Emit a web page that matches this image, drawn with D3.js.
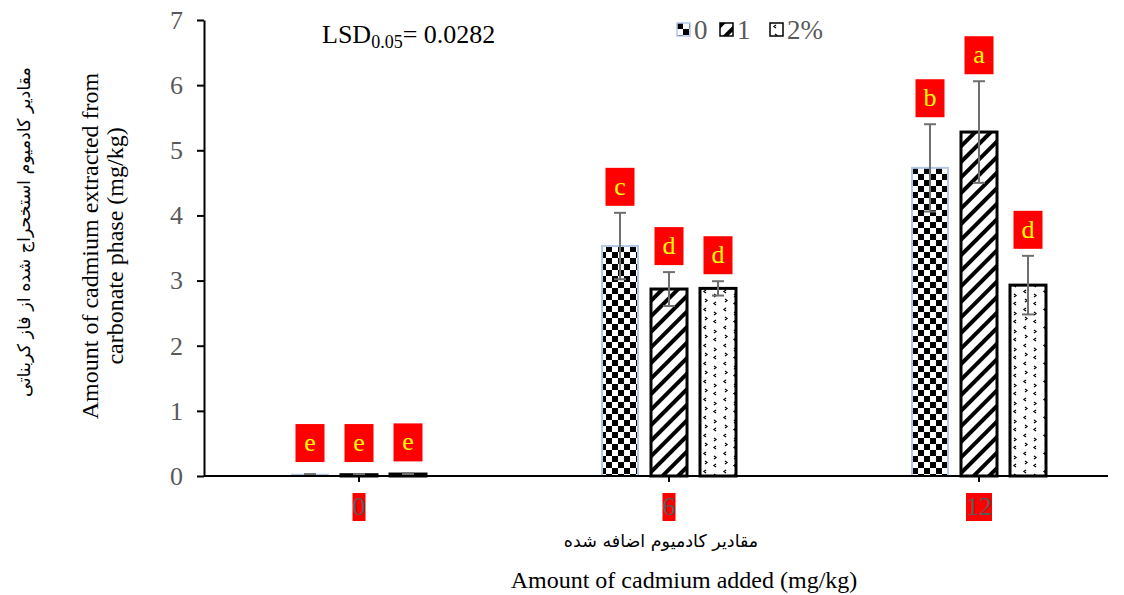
<!DOCTYPE html>
<html>
<head>
<meta charset="utf-8">
<script src="https://cdn.jsdelivr.net/npm/d3@7"></script>
<style>
  body { margin: 0; background: #fff; }
  svg { display: block; }
  text { font-family: "Liberation Serif", "Times New Roman", serif; }
  .fa { font-family: "DejaVu Sans", sans-serif; }
</style>
</head>
<body>
<svg width="1124" height="595"></svg>
<script>
// cadmium added (mg/kg)
const categories = ['0', '6', '12'];
// treatment levels shown in the legend
const series = ['0', '1', '2%'];

// mean values per series, one entry per category
const values0 = [0.02, 3.53, 4.73];
const values1 = [0.02, 2.87, 5.28];
const values2 = [0.03, 2.88, 2.93];

// error bar half-lengths
const errors0 = [0.01, 0.51, 0.67];
const errors1 = [0.01, 0.26, 0.78];
const errors2 = [0.01, 0.11, 0.45];

// LSD grouping letters
const letters0 = ['e', 'c', 'b'];
const letters1 = ['e', 'd', 'a'];
const letters2 = ['e', 'd', 'd'];

const yTicks = [0, 1, 2, 3, 4, 5, 6, 7];

const values = [values0, values1, values2];
const errors = [errors0, errors1, errors2];
const letters = [letters0, letters1, letters2];

const data = [];
categories.forEach((c, i) => {
  series.forEach((s, j) => {
    data.push({ cat: c, s: s, j: j, v: values[j][i], e: errors[j][i], l: letters[j][i] });
  });
});

const svg = d3.select('svg');
const plotLeft = 204, plotTop = 20, plotBottom = 476, axisRight = 1108;

const y = d3.scaleLinear().domain([0, 7]).range([plotBottom, plotTop]);
const x0 = d3.scaleBand().domain(categories).range([plotLeft, plotLeft + 930]);
const x1 = d3.scaleBand().domain(series).range([0, 134]).paddingInner(13 / 49);

const barX = d => x0(d.cat) + x0.bandwidth() / 2 - 67 + x1(d.s);

// patterns
const defs = svg.append('defs');

const checker = defs.append('pattern')
  .attr('id', 'pat0').attr('patternUnits', 'userSpaceOnUse')
  .attr('width', 12).attr('height', 12);
checker.append('rect').attr('width', 12).attr('height', 12).attr('fill', '#fff');
checker.append('rect').attr('width', 6).attr('height', 6).attr('fill', '#000');
checker.append('rect').attr('x', 6).attr('y', 6).attr('width', 6).attr('height', 6).attr('fill', '#000');

const stripes = defs.append('pattern')
  .attr('id', 'pat1').attr('patternUnits', 'userSpaceOnUse')
  .attr('width', 11).attr('height', 11)
  .attr('patternTransform', 'rotate(45)');
stripes.append('rect').attr('width', 11).attr('height', 11).attr('fill', '#fff');
stripes.append('rect').attr('width', 4).attr('height', 11).attr('fill', '#000');

const dots = defs.append('pattern')
  .attr('id', 'pat2').attr('patternUnits', 'userSpaceOnUse')
  .attr('width', 20).attr('height', 18);
dots.append('rect').attr('width', 20).attr('height', 18).attr('fill', '#fff');
dots.append('path')
  .attr('d', 'M6,2 L4,3.5 L6,5 M14,6 L16,7.5 L14,9 M5,11 L7,12.5 L5,14 M16,14 L14,15.5 L16,17')
  .attr('fill', 'none').attr('stroke', '#000').attr('stroke-width', 1.3);

const fills = ['url(#pat0)', 'url(#pat1)', 'url(#pat2)'];
const strokes = ['#b4c7e7', '#000', '#000'];
const strokeW = [2, 3, 3];

// bars
svg.append('g').selectAll('rect')
  .data(data)
  .join('rect')
  .attr('x', d => barX(d))
  .attr('y', d => y(d.v))
  .attr('width', x1.bandwidth())
  .attr('height', d => y(0) - y(d.v))
  .attr('fill', d => fills[d.j])
  .attr('stroke', d => strokes[d.j])
  .attr('stroke-width', d => strokeW[d.j]);

// error bars
const eb = svg.append('g').attr('stroke', '#6f6f6f').attr('stroke-width', 2);
eb.selectAll('line.v')
  .data(data)
  .join('line').attr('class', 'v')
  .attr('x1', d => barX(d) + x1.bandwidth() / 2)
  .attr('x2', d => barX(d) + x1.bandwidth() / 2)
  .attr('y1', d => y(d.v - d.e))
  .attr('y2', d => y(d.v + d.e));
eb.selectAll('line.t')
  .data(data.flatMap(d => [{ d: d, k: 1 }, { d: d, k: -1 }]))
  .join('line').attr('class', 't')
  .attr('x1', o => barX(o.d) + x1.bandwidth() / 2 - 6)
  .attr('x2', o => barX(o.d) + x1.bandwidth() / 2 + 6)
  .attr('y1', o => y(o.d.v + o.k * o.d.e))
  .attr('y2', o => y(o.d.v + o.k * o.d.e));

// letters
const lab = svg.append('g').selectAll('g')
  .data(data)
  .join('g')
  .attr('transform', d => `translate(${barX(d) + x1.bandwidth() / 2},${y(d.v + d.e) - (d.v < 0.5 ? 12 : 7)})`);
lab.append('rect')
  .attr('x', -14.5).attr('y', -38).attr('width', 29).attr('height', 38)
  .attr('fill', '#ff0000');
lab.append('text')
  .attr('y', -11)
  .attr('text-anchor', 'middle')
  .attr('font-size', 26)
  .attr('fill', '#ffff00')
  .text(d => d.l);

// y axis
const yAxis = svg.append('g')
  .attr('transform', `translate(${plotLeft},0)`)
  .call(d3.axisLeft(y).tickValues(yTicks).tickFormat(d3.format('d'))
    .tickSize(7).tickSizeOuter(0).tickPadding(14));
yAxis.select('.domain').attr('stroke', '#000').attr('stroke-width', 2);
yAxis.selectAll('.tick line').attr('stroke', '#000').attr('stroke-width', 2);
yAxis.selectAll('.tick text')
  .attr('font-size', 26).attr('fill', '#595959')
  .attr('font-family', '"Liberation Serif", serif');

// x axis
const xAxis = svg.append('g')
  .attr('transform', `translate(0,${plotBottom})`)
  .call(d3.axisBottom(x0).tickSize(6).tickSizeOuter(0));
xAxis.select('.domain').remove();
xAxis.append('line')
  .attr('x1', plotLeft).attr('x2', axisRight)
  .attr('stroke', '#000').attr('stroke-width', 2);
xAxis.selectAll('.tick line').attr('stroke', '#000').attr('stroke-width', 2);
xAxis.selectAll('.tick text')
  .attr('y', 39).attr('dy', 0)
  .attr('font-size', 26).attr('fill', '#595959')
  .attr('font-family', '"Liberation Serif", serif');
xAxis.selectAll('.tick').each(function () {
  const t = d3.select(this).select('text');
  const b = t.node().getBBox();
  d3.select(this).insert('rect', 'text')
    .attr('x', b.x).attr('y', b.y + 1)
    .attr('width', b.width).attr('height', b.height - 1)
    .attr('fill', '#ff0000');
});

// axis titles
svg.append('text')
  .attr('class', 'fa')
  .attr('transform', 'translate(30,232) rotate(-90)')
  .attr('text-anchor', 'middle')
  .attr('font-size', 17.5)
  .attr('fill', '#000')
  .text('مقادیر کادمیوم استخحراج شده از فاز کربناتی');

svg.append('text')
  .attr('transform', 'translate(98,246) rotate(-90)')
  .attr('text-anchor', 'middle')
  .attr('font-size', 24)
  .text('Amount of cadmium extracted from');
svg.append('text')
  .attr('transform', 'translate(123,246) rotate(-90)')
  .attr('text-anchor', 'middle')
  .attr('font-size', 24)
  .text('carbonate phase (mg/kg)');

svg.append('text')
  .attr('class', 'fa')
  .attr('x', 661).attr('y', 547)
  .attr('text-anchor', 'middle')
  .attr('font-size', 17.5)
  .text('مقادیر کادمیوم اضافه شده');

svg.append('text')
  .attr('x', 684).attr('y', 588)
  .attr('text-anchor', 'middle')
  .attr('font-size', 24)
  .text('Amount of cadmium added (mg/kg)');

// LSD note
const lsd = svg.append('text').attr('x', 322).attr('y', 43).attr('font-size', 26);
lsd.append('tspan').text('LSD');
lsd.append('tspan').attr('font-size', 18).attr('dy', 5).text('0.05');
lsd.append('tspan').attr('dy', -5).text('= 0.0282');

// legend
const legendX = [677, 720, 770];
const leg = svg.append('g').selectAll('g')
  .data(series)
  .join('g')
  .attr('transform', (d, i) => `translate(${legendX[i]},23)`);
leg.append('rect')
  .attr('width', 13).attr('height', 13)
  .attr('fill', (d, i) => fills[i])
  .attr('stroke', (d, i) => strokes[i])
  .attr('stroke-width', 1.5);
leg.append('text')
  .attr('x', 17).attr('y', 16)
  .attr('font-size', 27).attr('fill', '#595959')
  .text(d => d);
</script>
</body>
</html>
